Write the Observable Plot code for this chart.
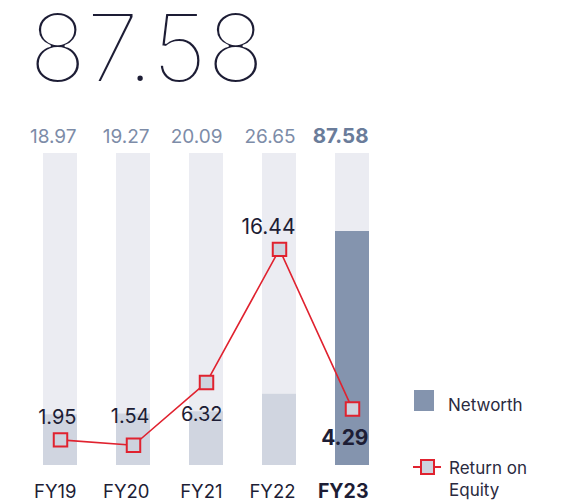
<!DOCTYPE html>
<html><head><meta charset="utf-8">
<script src="https://cdn.jsdelivr.net/npm/d3@7"></script>
<script src="https://cdn.jsdelivr.net/npm/@observablehq/plot@0.6"></script>
<style>
body{margin:0;background:#fff;font-family:Inter,"Open Sans",sans-serif;}
#wrap{position:relative;width:567px;height:502px;overflow:hidden;}
#title{position:absolute;left:29px;top:-9px;font-size:95px;font-weight:200;color:#1d1d35;line-height:1.2;-webkit-text-stroke:2px #fff;}
#chart{position:absolute;left:0;top:100px;}
.legtxt{position:absolute;font-size:17px;color:#2a2a40;line-height:22px;}
</style></head><body>
<div id="wrap">
<div id="chart"></div>
<div id="title"></div>
<div style="position:absolute;left:414px;top:390px;width:20px;height:21px;background:#8494ae"></div>
<div class="legtxt" style="left:448px;top:394px;">Networth</div>
<svg style="position:absolute;left:410px;top:455px" width="34" height="26">
  <line x1="3" y1="12" x2="31" y2="12" stroke="#e0222f" stroke-width="2"/>
  <rect x="11" y="5" width="13" height="14" fill="#cdd3de" stroke="#e0222f" stroke-width="2"/>
</svg>
<div class="legtxt" style="left:449px;top:457px;">Return on<br>Equity</div>
</div>
<script>
const years = ["FY19","FY20","FY21","FY22","FY23"];
const networth = [18.97, 19.27, 20.09, 26.65, 87.58];
const roe = [1.95, 1.54, 6.32, 16.44, 4.29];

const latest = years.length - 1;
document.getElementById("title").textContent = networth[latest].toFixed(2);

const trackMax = d3.max(networth) * 4 / 3;
const roeFactor = 4.92; // secondary (ROE) axis mapped onto the networth axis
const rows = years.map((y, i) => ({year: y, nw: networth[i], roe: roe[i], roeY: roe[i] * roeFactor, last: i === latest, i}));
const fmt = d => d.toFixed(2);
const dx = 16;
const dark = "#1d1d35";

const plot = Plot.plot({
  width: 567,
  height: 402,
  marginTop: 53,
  marginBottom: 37,
  marginLeft: 35,
  marginRight: 190,
  x: {domain: years, paddingInner: 0.537, paddingOuter: 0.1, axis: null},
  y: {domain: [0, trackMax], axis: null},
  style: {fontFamily: "Inter, 'Open Sans', sans-serif"},
  marks: [
    Plot.barY(rows, {x: "year", y: () => trackMax, fill: "#ebecf2"}),
    Plot.barY(rows, {x: "year", y: "nw", fill: d => d.last ? "#8494ae" : "#d0d5e0"}),
    Plot.text(rows.filter(d => !d.last), {x: "year", y: () => trackMax, text: d => fmt(d.nw), textAnchor: "end", lineAnchor: "bottom", dx, dy: -11, fontSize: 19, fill: "#7d8ca8"}),
    Plot.text(rows.filter(d => d.last), {x: "year", y: () => trackMax, text: d => fmt(d.nw), textAnchor: "end", lineAnchor: "bottom", dx, dy: -11, fontSize: 20.5, fontWeight: 700, fill: "#6a7c9a"}),
    Plot.line(rows, {x: "year", y: "roeY", stroke: "#e0222f", strokeWidth: 1.6}),
    Plot.dot(rows, {x: "year", y: "roeY", symbol: "square", r: 7.6, fill: "#cdd3de", stroke: "#e0222f", strokeWidth: 2}),
    Plot.text(rows.filter(d => d.i < 3), {x: "year", y: "nw", text: d => fmt(d.roe), textAnchor: "end", lineAnchor: "bottom", dx, dy: 9, fontSize: 20, fill: dark}),
    Plot.text(rows.filter(d => d.i === 3), {x: "year", y: "roeY", text: d => fmt(d.roe), textAnchor: "end", lineAnchor: "bottom", dx, dy: -15, fontSize: 21, fill: dark}),
    Plot.text(rows.filter(d => d.last), {x: "year", y: "roeY", text: d => fmt(d.roe), textAnchor: "end", lineAnchor: "bottom", dx, dy: 36, fontSize: 21, fontWeight: 700, fill: dark}),
    Plot.text(rows.filter(d => !d.last), {x: "year", frameAnchor: "bottom", text: "year", textAnchor: "end", lineAnchor: "bottom", dx, dy: 32, fontSize: 18.5, fill: dark}),
    Plot.text(rows.filter(d => d.last), {x: "year", frameAnchor: "bottom", text: "year", textAnchor: "end", lineAnchor: "bottom", dx, dy: 32, fontSize: 19.5, fontWeight: 700, fill: dark})
  ]
});
document.getElementById("chart").appendChild(plot);
</script>
</body></html>
